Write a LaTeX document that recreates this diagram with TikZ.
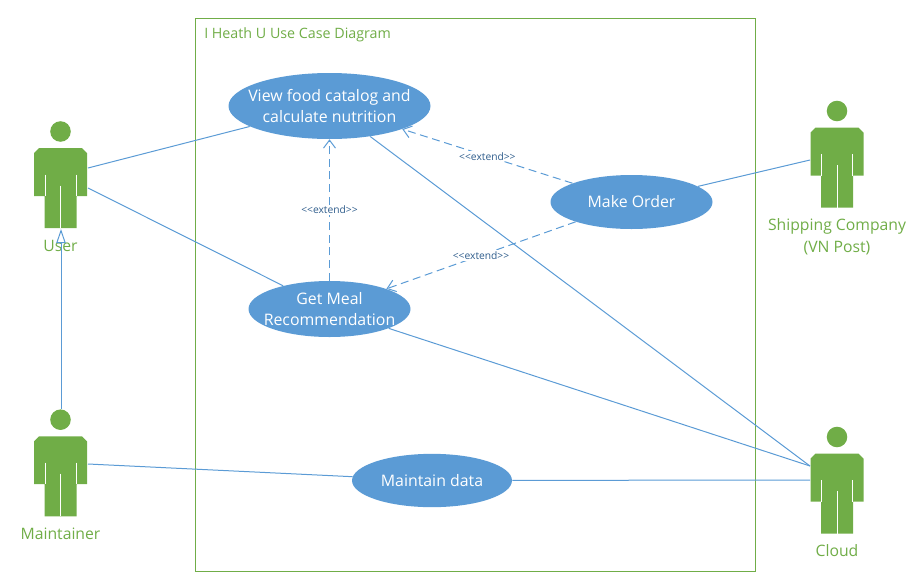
\documentclass[tikz,border=0pt]{standalone}
\usepackage{fontspec}
\setmainfont{Open Sans}
\usepackage{xcolor}
\usetikzlibrary{arrows.meta,shapes.geometric}
\definecolor{actorgreen}{HTML}{70AD47}
\definecolor{caseblue}{HTML}{5B9BD5}
\definecolor{extendblue}{HTML}{2F5D8C}
\newcommand{\extendtxt}{{<}{<}extend{>}{>}}
\tikzset{
	usecase/.style={ellipse,fill=caseblue,text=white,align=center,inner sep=-18pt,font=\fontsize{11.9}{15.75}\selectfont},
	actorname/.style={text=actorgreen,align=center,inner sep=0pt,font=\fontsize{11.8}{16.5}\selectfont},
	assoc/.style={draw=caseblue,line width=0.75pt},
	extend/.style={draw=caseblue,line width=0.75pt,dash pattern=on 6pt off 3.5pt,-{Straight Barb[length=6pt,width=9pt]}},
	extendtag/.style={fill=white,text=extendblue,inner xsep=1pt,inner ysep=1pt,font=\fontsize{7.7}{9}\selectfont},
	actorfig/.pic={
		\fill[actorgreen] (0,0) circle (7.7pt);
		\fill[actorgreen] (-21.5,16.7) -- (21.5,16.7) -- (26.5,21.7) -- (26.5,64.5) -- (16,64.5) -- (16,96.7)
			-- (-16,96.7) -- (-16,64.5) -- (-26.5,64.5) -- (-26.5,21.7) -- cycle;
		\draw[white,line width=0.75pt] (0,54) -- (0,96.7) (-15.5,43) -- (-15.5,64.5) (15.5,43) -- (15.5,64.5);
	}
}
\begin{document}
\begin{tikzpicture}[x=0.75pt,y=-0.75pt]
	\useasboundingbox (0,0) rectangle (916,582);
	\node[draw=actorgreen,line width=0.75pt,minimum width=420pt,minimum height=414.75pt,inner sep=0pt] (system) at (475,294.5) {};
	\node[anchor=west,text=actorgreen,inner sep=0pt,font=\fontsize{10.7}{12}\selectfont] (title) at (204,34.5) {I Heath U Use Case Diagram};
	%
	\node[usecase,minimum width=151.5pt,minimum height=49.5pt] (view) at (329.5,106) {View food catalog and\\calculate nutrition};
	\node[usecase,minimum width=121.5pt,minimum height=40.5pt] (order) at (631.5,202) {Make Order};
	\node[usecase,minimum width=121.5pt,minimum height=42pt] (meal) at (329.5,309) {Get Meal\\Recommendation};
	\node[usecase,minimum width=120pt,minimum height=40pt] (maintain) at (432,480.5) {Maintain data};
	%
	\pic at (60.5,131.5) {actorfig};
	\pic at (60.5,419.7) {actorfig};
	\pic at (837,111) {actorfig};
	\pic at (837,437) {actorfig};
	\node[actorname] (user) at (60.5,246) {User};
	\node[actorname] (maintainer) at (60.5,534) {Maintainer};
	\node[actorname] (shipping) at (837,237) {Shipping Company\\(VN Post)};
	\node[actorname] (cloud) at (837,551) {Cloud};
	%
	\coordinate (userA) at (88,168);
	\coordinate (userB) at (88,188);
	\coordinate (userFoot) at (61,229);
	\coordinate (maintainerA) at (88,464);
	\coordinate (maintainerHead) at (61,409);
	\coordinate (shippingA) at (810,160);
	\coordinate (cloudA) at (810,466);
	\coordinate (cloudB) at (810,480);
	%
	\path[assoc]
		(userA) edge (view)
		(userB) edge (meal)
		(maintainerA) edge (maintain)
		(shippingA) edge (order)
		(view) edge (cloudA)
		(meal) edge (cloudA)
		(maintain) edge (cloudB);
	\draw[assoc,-{Triangle[open,length=10.5pt,width=7pt]}] (maintainerHead) -- (userFoot);
	\path[extend]
		(meal) edge node[extendtag]{\extendtxt} (view)
		(order) edge node[extendtag]{\extendtxt} (view)
		(order) edge node[extendtag]{\extendtxt} (meal);
\end{tikzpicture}
\end{document}
